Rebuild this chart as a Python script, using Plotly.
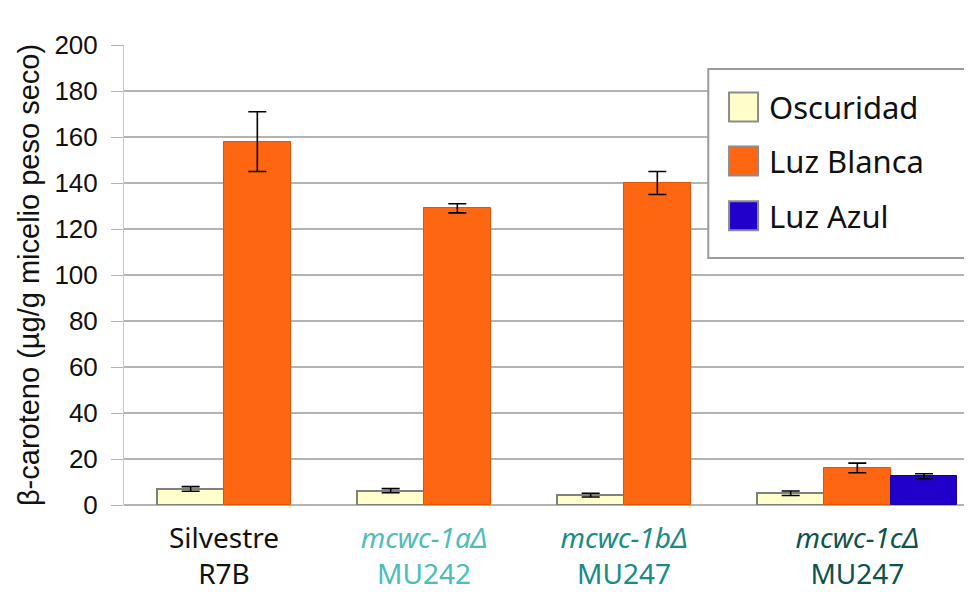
import plotly.graph_objects as go

# data
label_top = ["Silvestre", "<i>mcwc-1aΔ</i>", "<i>mcwc-1bΔ</i>", "<i>mcwc-1cΔ</i>"]
label_bottom = ["R7B", "MU242", "MU247", "MU247"]
label_colors = ["#111111", "#4DBDB8", "#1A8A84", "#0E524E"]

series_names = ["Oscuridad", "Luz Blanca", "Luz Azul"]
oscuridad = [7.0, 6.2, 4.3, 5.1]
oscuridad_err = [1.0, 0.9, 0.8, 1.0]
luz_blanca = [158, 129, 140, 16.1]
luz_blanca_err = [13, 2.0, 5.0, 2.1]
luz_azul = [None, None, None, 12.5]
luz_azul_err = [None, None, None, 1.1]

values = [oscuridad, luz_blanca, luz_azul]
errors = [oscuridad_err, luz_blanca_err, luz_azul_err]
fills = ["#FFFFCC", "#FF6611", "#2200CC"]
outlines = ["#808080", "#E05500", "#1A0099"]

# slot positions: bars of a group side by side, one empty slot between groups
slot = 1
bar_x = [[None] * len(label_top) for _ in series_names]
centers = []
for g in range(len(label_top)):
    present = [s for s in range(len(series_names)) if values[s][g] is not None]
    for k, s in enumerate(present):
        bar_x[s][g] = slot + k
    centers.append(slot + (len(present) - 1) / 2)
    slot += len(present) + 1

fig = go.Figure()
for s, name in enumerate(series_names):
    xs = [x for x, v in zip(bar_x[s], values[s]) if v is not None]
    ys = [v for v in values[s] if v is not None]
    es = [e for e in errors[s] if e is not None]
    fig.add_trace(go.Bar(
        x=xs, y=ys, name=name, width=1,
        marker=dict(color=fills[s], line=dict(color=outlines[s], width=2 if s == 0 else 1)),
        error_y=dict(type="data", array=es, color="black", thickness=1.6, width=9),
        showlegend=False,
    ))

ticktext = [
    f'<span style="color:{c}">{a}</span><br><span style="color:{c}">{b}</span>'
    for a, b, c in zip(label_top, label_bottom, label_colors)
]

# page body has an 8px margin, so the figure is 8px smaller and margins shifted
fig.update_layout(
    width=964, height=584,
    margin=dict(l=116, r=0, t=37, b=87),
    plot_bgcolor="white", paper_bgcolor="white",
    bargap=0,
    font=dict(family="Liberation Sans, Arial", size=26, color="#111111"),
)
fig.update_xaxes(
    range=[0, 12.72], tickvals=centers, ticktext=ticktext,
    showgrid=False, zeroline=False, showline=False, ticks="",
    tickfont=dict(family="Noto Sans", size=28),
    ticklabelstandoff=14,
)
fig.update_yaxes(
    range=[0, 200], dtick=20,
    showgrid=True, gridcolor="#B3B3B3", gridwidth=1.5,
    zeroline=True, zerolinecolor="#B3B3B3", zerolinewidth=1.5,
    showline=True, linecolor="#C8C8C8", linewidth=1,
    ticks="outside", ticklen=12, tickcolor="#B3B3B3",
    ticklabelstandoff=8,
    tickfont=dict(size=26),
    title=dict(text="β-caroteno (µg/g micelio peso seco)", font=dict(size=29), standoff=6),
)

# legend box drawn by hand to match the large swatches
fig.add_shape(type="rect", xref="paper", yref="paper",
              x0=0.689, x1=0.9976, y0=0.537, y1=0.948,
              line=dict(color="#9A9A9A", width=2), fillcolor="white", layer="above")
row_y = [0.865, 0.748, 0.629]
for s, name in enumerate(series_names):
    fig.add_shape(type="rect", xref="paper", yref="paper",
                  x0=0.7135, x1=0.7477, y0=row_y[s] - 0.0315, y1=row_y[s] + 0.0315,
                  line=dict(color="#8C8C8C", width=2), fillcolor=fills[s], layer="above")
    fig.add_annotation(xref="paper", yref="paper", x=0.7585, y=row_y[s],
                       xanchor="left", yanchor="middle", text=name, showarrow=False,
                       font=dict(family="Noto Sans", size=31, color="#111111"))

fig.write_html("out.html")
